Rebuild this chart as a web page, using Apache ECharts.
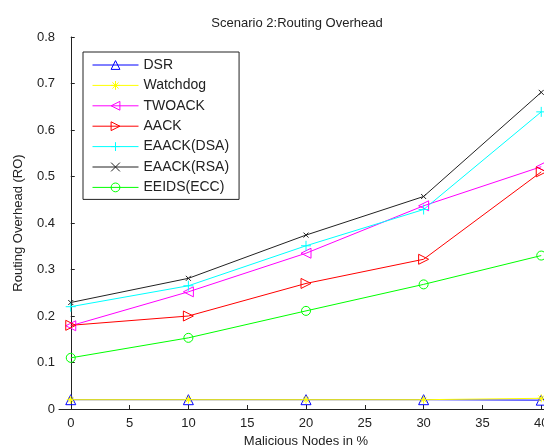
<!DOCTYPE html>
<html>
<head>
<meta charset="utf-8">
<script src="https://cdn.jsdelivr.net/npm/echarts@6/dist/echarts.min.js"></script>
<style>
  html, body { margin: 0; padding: 0; background: #fff; }
  #chart { width: 544px; height: 446px; }
</style>
</head>
<body>
<div id="chart"></div>
<script>
// x positions (malicious nodes %)
const nodes = [0, 10, 20, 30, 40]
const xTicks = [0, 5, 10, 15, 20, 25, 30, 35, 40]

// routing overhead per scheme
const dsr = [0.02, 0.02, 0.02, 0.02, 0.019]
const watchdog = [0.02, 0.02, 0.02, 0.02, 0.023]
const twoack = [0.179, 0.252, 0.335, 0.437, 0.521]
const aack = [0.18, 0.2, 0.27, 0.322, 0.51]
const eaackDsa = [0.22, 0.265, 0.351, 0.429, 0.639]
const eaackRsa = [0.229, 0.281, 0.374, 0.457, 0.681]
const eeids = [0.11, 0.153, 0.211, 0.268, 0.33]

const font = 'Liberation Sans, Arial, sans-serif'

// marker shapes
const tri = 'triangle'
const triLeft = 'path://M0,5L10,0L10,10Z'
const triRight = 'path://M10,5L0,0L0,10Z'
const plus = 'path://M5,0L5,10M0,5L10,5'
const cross = 'path://M0,0L10,10M0,10L10,0'
const star = 'path://M5,0L5,10M0,5L10,5M1.5,1.5L8.5,8.5M1.5,8.5L8.5,1.5'

const pairs = (ys) => nodes.map((x, i) => [x, ys[i]])

const mk = (name, ys, color, symbol, size) => ({
  name,
  type: 'line',
  data: pairs(ys),
  symbol,
  symbolSize: size,
  showSymbol: true,
  lineStyle: { color, width: 1 },
  itemStyle: { color: 'rgba(255,255,255,0)', borderColor: color, borderWidth: 1 },
  emphasis: { disabled: true },
  animation: false
})

const chart = echarts.init(document.getElementById('chart'))

chart.setOption({
  backgroundColor: '#fff',
  animation: false,
  title: {
    text: 'Scenario 2:Routing Overhead',
    left: 292,
    textAlign: 'center',
    top: 12,
    textStyle: { fontFamily: font, fontSize: 13, fontWeight: 'normal', color: '#222' }
  },
  legend: {
    orient: 'vertical',
    left: 83,
    top: 52,
    width: 160,
    padding: [6, 10, 5, 9],
    itemWidth: 46,
    itemHeight: 11,
    itemGap: 6.4,
    borderColor: '#222',
    borderWidth: 1,
    backgroundColor: '#fff',
    lineStyle: { width: 1 },
    itemStyle: { borderWidth: 1 },
    textStyle: { fontFamily: font, fontSize: 14, color: '#222', lineHeight: 14 },
    data: ['DSR', 'Watchdog', 'TWOACK', 'AACK', 'EAACK(DSA)', 'EAACK(RSA)', 'EEIDS(ECC)']
  },
  grid: { left: 59, top: 37, bottom: 37, width: 494, outerBoundsMode: 'none' },
  xAxis: {
    type: 'value',
    min: -1,
    max: 41,
    name: 'Malicious Nodes in %',
    nameLocation: 'middle',
    nameGap: 26,
    nameTextStyle: { fontFamily: font, fontSize: 13, color: '#222' },
    axisLine: { lineStyle: { color: '#222', width: 1 } },
    axisTick: { inside: true, length: 4, customValues: xTicks, lineStyle: { color: '#222' } },
    axisLabel: { customValues: xTicks, fontFamily: font, fontSize: 13, color: '#222', margin: 8 },
    splitLine: { show: false }
  },
  yAxis: {
    type: 'value',
    min: 0,
    max: 0.8,
    interval: 0.1,
    name: 'Routing Overhead (RO)',
    nameLocation: 'middle',
    nameGap: 34,
    nameTextStyle: { fontFamily: font, fontSize: 13, color: '#222' },
    axisLine: { show: true, lineStyle: { color: '#222', width: 1 } },
    axisTick: { show: true, inside: true, length: 4, lineStyle: { color: '#222' } },
    axisLabel: { fontFamily: font, fontSize: 13, color: '#222', margin: 4 },
    splitLine: { show: false }
  },
  series: [
    mk('DSR', dsr, '#0000ff', tri, 10),
    mk('Watchdog', watchdog, '#ffff00', star, 8),
    mk('TWOACK', twoack, '#ff00ff', triLeft, 10),
    mk('AACK', aack, '#ff0000', triRight, 10),
    mk('EAACK(DSA)', eaackDsa, '#00ffff', plus, 10),
    mk('EAACK(RSA)', eaackRsa, '#222222', cross, 5),
    mk('EEIDS(ECC)', eeids, '#00ff00', 'circle', 9)
  ]
})
</script>
</body>
</html>
